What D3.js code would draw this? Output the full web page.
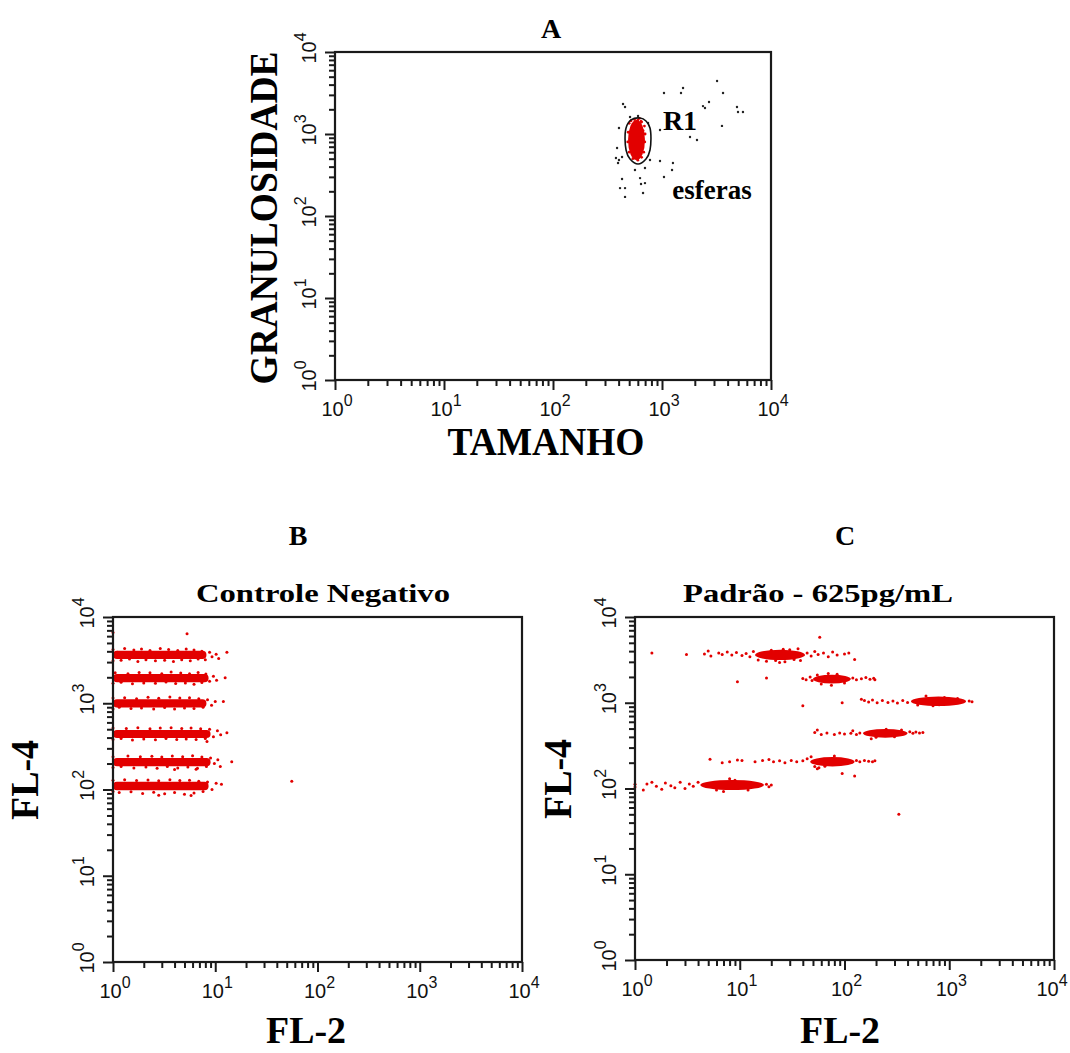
<!DOCTYPE html>
<html><head><meta charset="utf-8">
<script src="https://cdn.jsdelivr.net/npm/d3@7"></script>
<style>body{margin:0;background:#fff}svg{display:block}</style>
</head><body>
<svg id="chart" width="1070" height="1053"></svg>
<script>
// ---------------- DATA ----------------
const tickValues = [1, 10, 100, 1000, 10000];
const tickExponents = ["0", "1", "2", "3", "4"];

// Panel A: TAMANHO (x) vs GRANULOSIDADE (y)
const aCoreX = [488, 698];
const aCoreY = [482, 1483];
const aRedDots = [[500,1350],[520,1450],[560,1500],[600,1480],[650,1400],[690,1250],[700,1000],[695,800],[680,600],[650,520],[600,480],[540,500],[500,600],[485,800],[490,1050],[620,1550],[640,1420],[580,1300],[610,900],[550,700],[660,700],[530,1150],[670,1100],[590,560]];
const aBlackDots = [[1043,3162],[1494,3162],[1560,3640],[3200,4430],[3630,3162],[2377,2190],[2480,2075],[2700,2455],[4875,2135],[4980,1855],[5530,1855],[3550,1255],[1807,919],[2094,845],[959,1119],[439,2323],[458,2135],[403,1183],[387,675],[378,509],[403,482],[430,525],[395,443],[776,482],[959,469],[1260,443],[1236,364],[1043,299],[698,385],[565,364],[629,290],[642,246],[698,252],[430,283],[412,219],[458,219],[670,191],[458,171],[509,1611],[603,1660],[745,1361]];
const aGateX = [629, 713, 776, 776, 713, 603, 509, 468, 468, 520];
const aGateY = [1567, 1442, 1183, 638, 495, 430, 495, 638, 1183, 1483];

// Panel B: Controle Negativo (FL-2 x, FL-4 y)
const bCoreXlo = [1, 1, 1, 1, 1, 1];
const bCoreXhi = [8.2, 8.6, 8.2, 9.0, 9.0, 8.6];
const bCoreYlo = [3250, 1750, 895, 395, 186, 98];
const bCoreYhi = [4050, 2180, 1115, 490, 232, 123];
const bDots = [
  [1.0,3100],[1.0,4200],[1.1,3900],[1.2,3150],[1.3,4300],[1.45,3250],[1.6,4150],[1.75,3050],[1.9,4250],[2.1,3200],[2.3,4100],[2.6,3100],[2.9,4300],[3.2,3150],[3.5,4200],[3.9,3050],[4.3,4100],[4.7,3200],[5.2,4250],[5.7,3100],[6.2,4150],[6.8,3250],[7.4,4000],[8.0,3200],[8.8,3900],[9.3,3450],[10.2,3700],[10.8,3300],[13,3900],[5.3,6400],[1.0,6600],
  [1.0,1700],[1.05,2250],[1.2,1750],[1.4,2200],[1.55,1680],[1.8,2280],[2.0,1720],[2.3,2250],[2.6,1700],[3.0,2200],[3.3,1760],[3.7,2300],[4.1,1690],[4.6,2240],[5.1,1720],[5.6,2200],[6.2,1660],[6.8,2280],[7.4,1740],[8.1,2180],[8.8,1800],[9.6,2050],[10.3,1850],[12.5,1980],
  [1.0,860],[1.0,1150],[1.15,900],[1.3,1160],[1.5,870],[1.7,1130],[1.9,880],[2.2,1170],[2.5,860],[2.8,1140],[3.2,890],[3.6,1180],[4.0,860],[4.5,1150],[5.0,880],[5.6,1160],[6.2,870],[6.9,1130],[7.6,900],[8.4,1100],[9.2,950],[10.0,1050],[12,1050],
  [1.0,380],[1.0,515],[1.2,390],[1.35,510],[1.55,375],[1.75,520],[2.0,385],[2.3,505],[2.6,378],[2.9,515],[3.3,390],[3.7,520],[4.2,380],[4.7,510],[5.2,385],[5.8,518],[6.5,380],[7.2,505],[8.0,390],[8.8,500],[9.6,410],[10.5,480],[11.3,430],[13,455],[8.3,360],
  [1.0,180],[1.0,240],[1.2,185],[1.4,245],[1.6,178],[1.85,240],[2.1,182],[2.4,243],[2.7,176],[3.0,238],[3.4,185],[3.8,245],[4.3,178],[4.8,240],[5.4,182],[6.0,246],[6.7,176],[7.4,238],[8.2,185],[9.0,232],[9.8,200],[10.6,222],[11.2,185],[14.5,210],[4.0,170],[6.5,172],
  [1.0,95],[1.0,128],[1.15,92],[1.3,130],[1.5,94],[1.7,127],[1.95,90],[2.2,129],[2.5,93],[2.8,126],[3.2,89],[3.6,130],[4.0,92],[4.5,127],[5.0,88],[5.6,128],[6.2,91],[6.9,125],[7.6,95],[8.4,122],[9.3,100],[10.2,118],[11.5,115],[2.8,86],[5.8,85],
  [56,125]
];

// Panel C: Padrão - 625pg/mL
const cCoreXlo = [14, 50, 430, 150, 47, 4.2];
const cCoreXhi = [42, 115, 1450, 400, 125, 17];
const cCoreYlo = [3150, 1680, 915, 392, 181, 96];
const cCoreYhi = [4150, 2120, 1180, 495, 233, 126];
const cDots = [
  [1.45,3800],[3.1,3650],[4.6,3700],[5.0,4000],[5.3,3500],[6.3,3800],[6.8,3650],[7.6,3900],[8.4,3600],[9.3,3850],[10.5,3550],[11.5,3750],[12.5,3450],[13.5,3950],[15,3150],[18,3050],[22,3100],[27,3000],[33,3200],[38,3100],[44,3800],[48,3500],[52,3950],[56,3650],[63,3800],[70,3450],[77,3900],[85,3600],[100,3700],[110,3800],[125,3200],[26,4200],[30,4150],[20,4100],[58,5800],[24,2950],[36,4250],
  [9.5,1760],[18,1950],[40,1920],[43,1850],[47,2000],[49,1820],[120,1950],[130,1850],[145,1900],[160,1970],[175,1880],[190,1930],[195,1850],[75,1600],[60,1650],[100,1700],[85,2150],[55,2100],[70,2200],
  [40,920],[95,1000],[145,1100],[155,1060],[170,1020],[185,1080],[205,1000],[230,1060],[260,1010],[290,1050],[320,990],[360,1060],[400,1010],[1550,1050],[1650,1030],[500,940],[700,920],[900,1150],[1200,1120],[800,950],[600,1200],
  [52,450],[55,480],[60,425],[68,445],[80,425],[90,445],[100,432],[115,440],[120,470],[130,425],[140,445],[420,460],[450,440],[480,455],[520,445],[560,450],[200,395],[300,400],[250,490],[350,480],[180,380],
  [5.2,220],[6.8,200],[8.0,205],[9.5,215],[10.5,212],[14,205],[16.5,212],[19,218],[21,205],[24,210],[27,200],[31,212],[35,205],[40,210],[44,222],[48,235],[130,212],[140,205],[155,212],[170,208],[185,205],[195,210],[52,180],[57,175],[65,182],[95,150],[125,140],[55,170],[80,240],
  [1.0,112],[1.0,104],[1.2,96],[1.3,113],[1.45,118],[1.6,106],[1.8,98],[1.95,116],[2.2,108],[2.4,102],[2.7,118],[3.0,100],[3.3,113],[3.6,106],[4.0,118],[18,112],[19,105],[20,110],[7,92],[6,96],[9,125],[12,96],[8,130],
  [330,50]
];

// ---------------- DRAWING ----------------
const W = 1070;
const RED = "#e20000";
const INK = "#1a1a1a";
const svg = d3.select("#chart");
const serif = "'Liberation Serif','Times New Roman',serif";
const sans = "'Liberation Sans',Arial,sans-serif";

const minorTicks = [];
tickValues.slice(0, 4).forEach(d => { for (let m = 2; m <= 9; m++) minorTicks.push(d * m); });

function makePanel(f) {
  const x = d3.scaleLog().domain([1, 1e4]).range([f.x0, f.x1]);
  const y = d3.scaleLog().domain([1, 1e4]).range([f.y1, f.y0]);
  const g = svg.append("g");
  return {x, y, g, f};
}

function drawAxes(p) {
  const {x, y, g, f} = p;
  const style = sel => {
    sel.select(".domain").remove();
    sel.selectAll("line").attr("stroke", INK).attr("stroke-width", 2);
  };
  g.append("g").attr("transform", `translate(0,${f.y1})`)
    .call(d3.axisBottom(x).tickValues(tickValues).tickSize(10).tickFormat("")).call(style);
  g.append("g").attr("transform", `translate(0,${f.y1})`)
    .call(d3.axisBottom(x).tickValues(minorTicks).tickSize(6).tickFormat("")).call(style);
  g.append("g").attr("transform", `translate(${f.x0},0)`)
    .call(d3.axisLeft(y).tickValues(tickValues).tickSize(10).tickFormat("")).call(style);
  g.append("g").attr("transform", `translate(${f.x0},0)`)
    .call(d3.axisLeft(y).tickValues(minorTicks).tickSize(6).tickFormat("")).call(style);

  tickValues.forEach((v, i) => {
    const lx = Math.min(x(v) + 2, W - 18);
    const t = g.append("text").attr("x", lx).attr("y", f.y1 + 36)
      .attr("text-anchor", "middle").attr("font-family", sans).attr("font-size", 20).attr("fill", "#111");
    t.append("tspan").text("10");
    t.append("tspan").attr("font-size", 16).attr("dy", -10).text(tickExponents[i]);
    const ty = g.append("text").attr("transform", `translate(${f.x0 - 19},${y(v) - 4}) rotate(-90)`)
      .attr("text-anchor", "middle").attr("font-family", sans).attr("font-size", 20).attr("fill", "#111");
    ty.append("tspan").text("10");
    ty.append("tspan").attr("font-size", 16).attr("dy", -10).text(tickExponents[i]);
  });

  g.append("rect").attr("x", f.x0).attr("y", f.y0).attr("width", f.x1 - f.x0).attr("height", f.y1 - f.y0)
    .attr("fill", "none").attr("stroke", INK).attr("stroke-width", 2.2);
}

function drawDots(p, dots, color, r) {
  p.g.append("g").selectAll("circle").data(dots).join("circle")
    .attr("cx", d => p.x(d[0])).attr("cy", d => p.y(d[1])).attr("r", r).attr("fill", color);
}

function drawCoreRects(p, xlo, xhi, ylo, yhi) {
  p.g.append("g").selectAll("rect").data(xlo).join("rect")
    .attr("x", (d, i) => p.x(d))
    .attr("width", (d, i) => p.x(xhi[i]) - p.x(d))
    .attr("y", (d, i) => p.y(yhi[i]))
    .attr("height", (d, i) => p.y(ylo[i]) - p.y(yhi[i]))
    .attr("rx", 4).attr("fill", RED);
}

function drawCoreEllipses(p, xlo, xhi, ylo, yhi) {
  p.g.append("g").selectAll("ellipse").data(xlo).join("ellipse")
    .attr("cx", (d, i) => (p.x(d) + p.x(xhi[i])) / 2)
    .attr("cy", (d, i) => (p.y(ylo[i]) + p.y(yhi[i])) / 2)
    .attr("rx", (d, i) => (p.x(xhi[i]) - p.x(d)) / 2)
    .attr("ry", (d, i) => (p.y(ylo[i]) - p.y(yhi[i])) / 2)
    .attr("fill", RED);
}

function label(txt, x, y, size, opts = {}) {
  const t = svg.append("text").attr("font-family", serif).attr("font-weight", "bold")
    .attr("font-size", size).attr("fill", "#000").attr("text-anchor", opts.anchor || "middle").text(txt);
  if (opts.rotate) t.attr("transform", `translate(${x},${y}) rotate(-90)`);
  else t.attr("x", x).attr("y", y);
  if (opts.len) t.attr("textLength", opts.len).attr("lengthAdjust", "spacingAndGlyphs");
  return t;
}

// ---- Panel A ----
const pA = makePanel({x0: 335, x1: 771, y0: 52, y1: 380});
drawDots(pA, aBlackDots, "#222", 1.2);
pA.g.append("ellipse")
  .attr("cx", (pA.x(aCoreX[0]) + pA.x(aCoreX[1])) / 2)
  .attr("cy", (pA.y(aCoreY[0]) + pA.y(aCoreY[1])) / 2)
  .attr("rx", (pA.x(aCoreX[1]) - pA.x(aCoreX[0])) / 2)
  .attr("ry", (pA.y(aCoreY[0]) - pA.y(aCoreY[1])) / 2)
  .attr("fill", RED);
drawDots(pA, aRedDots, RED, 1.4);
const gatePts = aGateX.map((v, i) => [pA.x(v), pA.y(aGateY[i])]);
pA.g.append("path").attr("d", d3.line().curve(d3.curveCatmullRomClosed)(gatePts))
  .attr("fill", "none").attr("stroke", "#111").attr("stroke-width", 1.6);
drawAxes(pA);
label("A", 551, 38, 28);
label("R1", 680, 130, 28);
label("esferas", 712, 199, 27);
label("TAMANHO", 546, 455, 40, {len: 197});
label("GRANULOSIDADE", 277, 218, 40, {rotate: true, len: 333});

// ---- Panel B ----
const pB = makePanel({x0: 113, x1: 522, y0: 617, y1: 962});
drawCoreRects(pB, bCoreXlo, bCoreXhi, bCoreYlo, bCoreYhi);
drawDots(pB, bDots, RED, 1.5);
drawAxes(pB);
label("B", 298, 545, 28);
label("Controle Negativo", 323, 602, 26, {len: 254});
label("FL-4", 38, 780, 40, {rotate: true, len: 80});
label("FL-2", 306, 1043, 38, {len: 80});

// ---- Panel C ----
const pC = makePanel({x0: 635, x1: 1054, y0: 617, y1: 960});
drawCoreEllipses(pC, cCoreXlo, cCoreXhi, cCoreYlo, cCoreYhi);
drawDots(pC, cDots, RED, 1.5);
drawAxes(pC);
label("C", 845, 545, 28);
label("Padrão - 625pg/mL", 818, 602, 26, {len: 270});
label("FL-4", 571, 779, 40, {rotate: true, len: 80});
label("FL-2", 840, 1043, 38, {len: 80});
</script>
</body></html>
